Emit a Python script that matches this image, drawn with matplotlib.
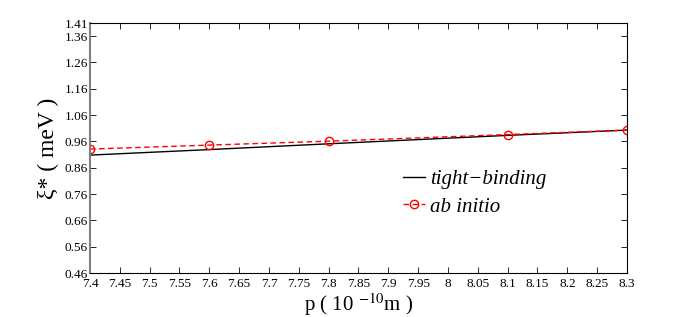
import matplotlib
matplotlib.use("Agg")
import matplotlib.pyplot as plt

p = [7.4, 7.6, 7.8, 8.1, 8.3]
tight_binding = [0.908, 0.929, 0.951, 0.983, 1.003]
ab_initio = [0.931, 0.946, 0.961, 0.986, 1.003]
xticks = [7.4, 7.45, 7.5, 7.55, 7.6, 7.65, 7.7, 7.75, 7.8, 7.85, 7.9, 7.95, 8.0,
          8.05, 8.1, 8.15, 8.2, 8.25, 8.3]
xticklabels = ["7.4", "7.45", "7.5", "7.55", "7.6", "7.65", "7.7", "7.75", "7.8", "7.85",
               "7.9", "7.95", "8", "8.05", "8.1", "8.15", "8.2", "8.25", "8.3"]
yticks = [0.46, 0.56, 0.66, 0.76, 0.86, 0.96, 1.06, 1.16, 1.26, 1.36, 1.41]
yticklabels = ["0.46", "0.56", "0.66", "0.76", "0.86", "0.96", "1.06", "1.16", "1.26", "1.36", "1.41"]

plt.rcParams['font.family'] = ['Liberation Serif', 'DejaVu Serif']
plt.rcParams['mathtext.fontset'] = 'stix'

fig = plt.figure(figsize=(6.92, 3.17), dpi=100)
ax = fig.add_axes([90/692, 1-273/317, 537/692, 250/317])

ax.plot(p, tight_binding, color='black', lw=1.0, label='tight\u2212binding')
ax.plot(p, ab_initio, color='red', lw=1.0, ls=(0, (4, 2.5)), marker='o', mfc='none',
        mec='red', ms=6, mew=1.0, label='ab initio')

ax.set_xlim(7.4, 8.3)
ax.set_ylim(0.46, 1.41)
ax.set_xticks(xticks)
ax.set_xticklabels(xticklabels, fontsize=9.5)
ax.set_yticks(yticks)
ax.set_yticklabels(yticklabels, fontsize=9.5)
ax.tick_params(direction='in', top=True, right=True, length=4, width=0.6)
ax.tick_params(axis='x', pad=3.5)
ax.tick_params(axis='y', pad=1.5)
for s in ax.spines.values():
    s.set_linewidth(0.8)
ax.spines['left'].set_color('#808080')
ax.spines['left'].set_linewidth(1.5)

ax.set_xlabel(r'p ( 10 $^{\mathrm{-10}}$m )', fontsize=15, labelpad=1)
ax.set_ylabel(r'ξ* ( meV )', fontsize=17, labelpad=4)

leg = ax.legend(loc='upper left', bbox_to_anchor=(0.548, 0.49), frameon=False,
                prop={'style': 'italic', 'size': 15}, handlelength=1.05,
                handletextpad=0.25, labelspacing=0.4)

fig.savefig('out.png', dpi=100)
